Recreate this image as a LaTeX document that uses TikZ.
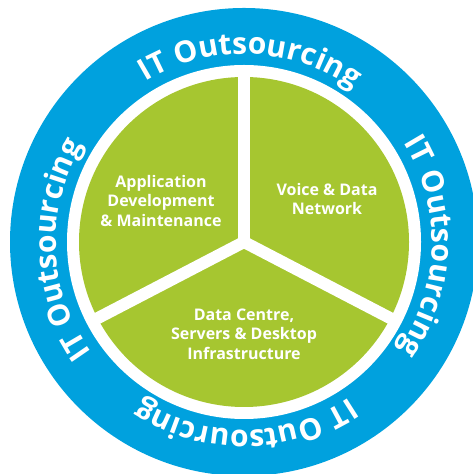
\documentclass[tikz,border=0pt]{standalone}
\usepackage{fontspec}
\setmainfont{Open Sans}
\usetikzlibrary{decorations.text}
\definecolor{ringblue}{RGB}{0,161,222}
\definecolor{sectorgreen}{RGB}{166,198,48}
\newcommand{\ringfont}{\fontsize{30bp}{34bp}\selectfont\bfseries}
\newcommand{\sectorfont}{\fontsize{16bp}{19.5bp}\selectfont\bfseries}

\begin{document}
\begin{tikzpicture}[x=1bp, y=1bp,
		sector label/.style={text=white, font=\sectorfont, align=center},
		ring label/.style={decorate, decoration={text along path, text align=center, text color=white, text={|\ringfont|IT Outsourcing}}}]
		\useasboundingbox (0,0) rectangle (473,474);
		\clip (0,0) rectangle (473,474);
		\coordinate (centre) at (244,232);
		\def\outerring{(centre) circle [radius = 234]};
		\def\innerring{(centre) circle [radius = 177]};
		\def\greendisc{(centre) circle [radius = 165]};
		
		\begin{scope}
			\fill [ringblue] \outerring;
			\fill [white] \innerring;
			\fill [sectorgreen] \greendisc;
		\end{scope}
		
		\begin{scope}
			\foreach \angle in {90, 207.5, 332.5}
				\draw [white, line width = 12bp] (centre) -- ++(\angle:171);
			\fill [white] (centre) circle [radius = 6];
		\end{scope}
		
		\begin{scope}
			\foreach \mid in {88, -1.5, 270.5, 182.5}
				\path [ring label] (centre) ++(\mid+45:188) arc [start angle = \mid+45, end angle = \mid-45, radius = 188];
		\end{scope}
		
		\begin{scope}
			\node [sector label] (appdev) at (161,273) {Application\\Development\\\& Maintenance};
			\node [sector label] (voicedata) at (327,275) {Voice \& Data\\Network};
			\node [sector label] (datacentre) at (244,140) {Data Centre,\\Servers \& Desktop\\Infrastructure};
		\end{scope}
	\end{tikzpicture}
\end{document}
